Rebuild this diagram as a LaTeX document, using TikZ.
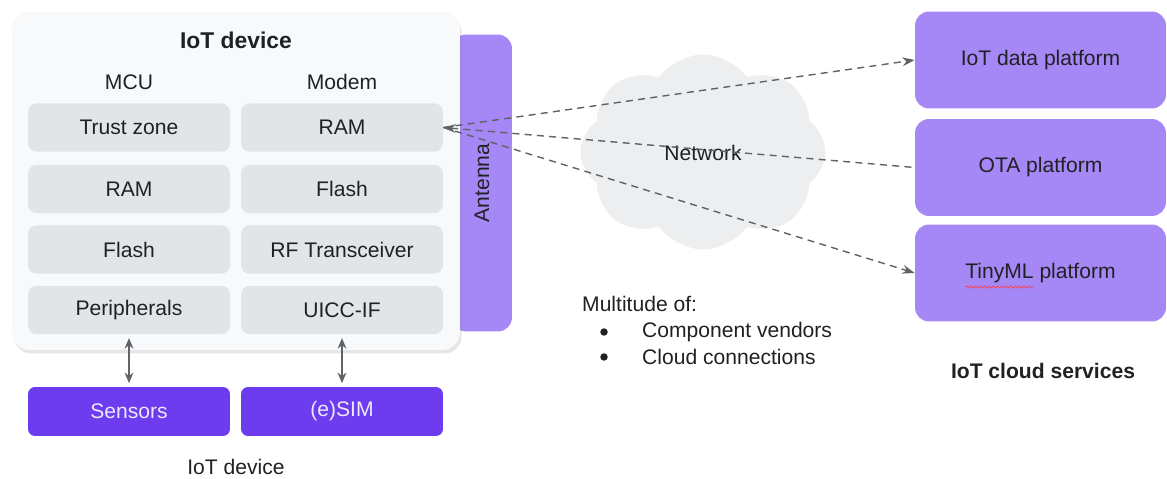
\documentclass[tikz,border=0pt]{standalone}
\usepackage{fontspec}
\setmainfont{Liberation Sans}
\usetikzlibrary{
  positioning, arrows.meta, calc,
  shapes.symbols, shadows,
  decorations.pathmorphing
}
\definecolor{lilac}{RGB}{166,135,246}
\definecolor{deepviolet}{RGB}{108,60,238}
\definecolor{partgray}{RGB}{226,229,230}
\definecolor{boardgray}{RGB}{248,249,250}
\definecolor{cloudgray}{RGB}{236,238,239}
\definecolor{linkgray}{RGB}{95,99,104}
\definecolor{ink}{RGB}{32,33,36}

\begin{document}
\begin{tikzpicture}
      [x=0.02cm, y=-0.02cm, text=ink, font=\fontsize{12}{14}\selectfont,
       part/.style={rectangle,rounded corners=5pt,fill=partgray,minimum width=4.04cm,minimum height=0.97cm},
       ext/.style={rectangle,rounded corners=4pt,fill=deepviolet,text=white!88!deepviolet,minimum width=4.04cm,minimum height=0.98cm},
       service/.style={rectangle,rounded corners=8pt,fill=lilac,minimum width=5.02cm,minimum height=1.94cm},
       dot/.style={circle,fill=ink,inner sep=0pt,minimum size=0.15cm},
       link/.style={linkgray,line width=0.8pt,dash pattern=on 4pt off 3pt},
       bus/.style={linkgray,line width=0.8pt,{Stealth[length=6pt,width=5pt]}-{Stealth[length=6pt,width=5pt]}}]
      \useasboundingbox (0,0) rectangle (1167,479);

      \node (antenna) at (482,183) [rectangle,rounded corners=8pt,fill=lilac,rotate=90,
        minimum width=5.94cm,minimum height=1.2cm] {Antenna};
      \node (board) at (236,181) [rectangle,rounded corners=10pt,fill=boardgray,
        minimum width=8.96cm,minimum height=6.76cm,
        drop shadow={opacity=0.2,shadow xshift=1pt,shadow yshift=-2pt}] {};

      \node (title) at (236,40) {\bfseries\fontsize{13}{15}\selectfont IoT device};
      \node (mcu) at (129,82) {MCU};
      \node (modem) at (342,82) {Modem};

      \node (mcu1) at (129,127.5) [part] {Trust zone};
      \node (mcu2) at (129,189) [part] {RAM};
      \node (mcu3) at (129,249.5) [part] {Flash};
      \node (mcu4) at (129,310) [part] {Peripherals};

      \node (modem1) at (342,127.5) [part] {RAM};
      \node (modem2) at (342,189) [part] {Flash};
      \node (modem3) at (342,249.5) [part] {RF Transceiver};
      \node (modem4) at (342,310) [part] {UICC-IF};

      \node (sensors) at (129,411.5) [ext] {Sensors};
      \node (esim) at (342,411.5) [ext] {(e)SIM};

      \draw[bus, shorten <=2pt, shorten >=2pt] (mcu4) -- (sensors);
      \draw[bus, shorten <=2pt, shorten >=2pt] (modem4) -- (esim);

      \node (devlabel) at (236,467) {IoT device};

      \node (net) at (703,152) [cloud,cloud puffs=8,cloud puff arc=110,aspect=1.25,fill=cloudgray,
        minimum width=4.9cm,minimum height=3.9cm] {};
      \node (netlabel) at (703,153) {Network};

      \node (svc1) at (1040.5,60) [service] {IoT data platform};
      \node (svc2) at (1040.5,167.5) [service] {OTA platform};
      \node (svc3) at (1040.5,273) [service] {TinyML platform};
      \draw[red!75!white, line width=0.4pt, decorate,
        decoration={snake,amplitude=0.6pt,segment length=2.5pt}]
        ($(svc3.center)+(-75,14)$) -- ($(svc3.center)+(-7,14)$);

      \draw[link, -{Stealth[length=7pt,width=5pt]}] (modem1.east) -- (svc1.west);
      \draw[link, {Stealth[length=7pt,width=5pt]}-] (modem1.east) -- (svc2.west);
      \draw[link, -{Stealth[length=7pt,width=5pt]}] (modem1.east) -- (svc3.west);

      \node (cloudlabel) at (1043,371) {\bfseries IoT cloud services};

      \node (multi) at (576,304) [anchor=west] {Multitude of:};
      \node (dot1) at (604,332) [dot] {};
      \node (dot2) at (604,357) [dot] {};
      \node (item1) at (636,332) [anchor=west] {Component vendors};
      \node (item2) at (636,357) [anchor=west] {Cloud connections};
\end{tikzpicture}
\end{document}
